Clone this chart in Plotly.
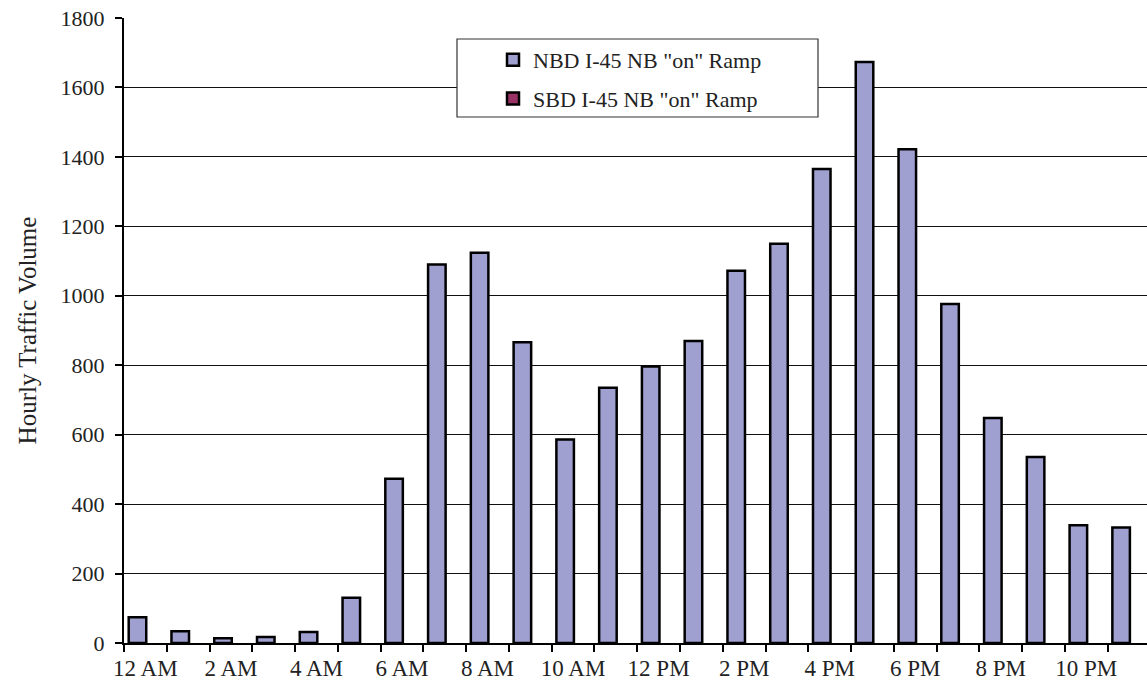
import plotly.graph_objects as go

# Hourly traffic volumes on the I-45 NB "on" ramp
hours = ["12 AM", "1 AM", "2 AM", "3 AM", "4 AM", "5 AM", "6 AM", "7 AM",
         "8 AM", "9 AM", "10 AM", "11 AM", "12 PM", "1 PM", "2 PM", "3 PM",
         "4 PM", "5 PM", "6 PM", "7 PM", "8 PM", "9 PM", "10 PM", "11 PM"]
nbd_volume = [74, 34, 14, 17, 32, 130, 473, 1090, 1124, 866, 586, 735,
              796, 870, 1072, 1150, 1365, 1673, 1422, 976, 648, 536, 339, 333]
sbd_volume = [0] * 24
series_names = ['NBD I-45 NB "on" Ramp', 'SBD I-45 NB "on" Ramp']
# only every other hour is labelled on the axis
hour_labels = [h if i % 2 == 0 else "" for i, h in enumerate(hours)]
y_ticks = list(range(0, 1801, 200))

W, H = 1147, 687
ML, MR, MT, MB = 124, 0, 18, 44
PW, PH = W - ML - MR, H - MT - MB

FONT = "Liberation Serif, Times New Roman, serif"
TXT = "#222222"


def px_x(p):
    return (p - ML) / PW


def px_y(p):
    return (H - MB - p) / PH


fig = go.Figure()
fig.add_trace(go.Bar(
    x=hours, y=nbd_volume, name=series_names[0], legendgroup="a",
    width=0.41, offset=-0.39,
    marker=dict(color="#9f9fd0", line=dict(color="black", width=2.5)),
))
# zero-volume hours have no visible bar (avoid outlining empty bars)
fig.add_trace(go.Bar(
    x=hours, y=[v if v else None for v in sbd_volume],
    name=series_names[1], legendgroup="b",
    width=0.41, offset=0.02,
    marker=dict(color="#993366", line=dict(color="black", width=2.5)),
))

# legend frame
fig.add_shape(type="rect", xref="paper", yref="paper",
              x0=px_x(457), x1=px_x(818), y0=px_y(117), y1=px_y(39),
              fillcolor="white", line=dict(color="#333333", width=1.2),
              layer="above")

fig.update_layout(
    width=W, height=H,
    margin=dict(l=ML, r=MR, t=MT, b=MB, pad=0),
    paper_bgcolor="white", plot_bgcolor="white",
    barmode="overlay",
    font=dict(family=FONT, size=22, color=TXT),
    showlegend=True,
    legend=dict(
        x=px_x(493), y=px_y(39), xanchor="left", yanchor="top",
        bgcolor="rgba(0,0,0,0)", borderwidth=0,
        font=dict(family=FONT, size=22, color=TXT),
        tracegroupgap=7, itemclick=False, itemdoubleclick=False,
    ),
    xaxis=dict(
        type="category", categoryorder="array", categoryarray=hours,
        range=[-0.5, 23.42],
        tickmode="array", tickvals=hours, ticktext=hour_labels,
        tickangle=0,
        tickson="boundaries", ticks="outside", ticklen=7, tickwidth=1.5,
        tickcolor="black", ticklabelstandoff=4,
        showline=True, linecolor="black", linewidth=1.5,
        showgrid=False, zeroline=False,
        tickfont=dict(family=FONT, size=23, color=TXT),
    ),
    yaxis=dict(
        range=[0, 1800], tickmode="array", tickvals=y_ticks,
        ticks="outside", ticklen=7, tickwidth=1.5, tickcolor="black",
        ticklabelstandoff=6,
        showline=True, linecolor="black", linewidth=2,
        showgrid=True, gridcolor="#111111", gridwidth=1.3,
        zeroline=False,
        tickfont=dict(family=FONT, size=22, color=TXT),
        title=dict(text="Hourly Traffic Volume", standoff=17,
                   font=dict(family=FONT, size=25, color=TXT)),
    ),
)

fig.write_html("out.html")
